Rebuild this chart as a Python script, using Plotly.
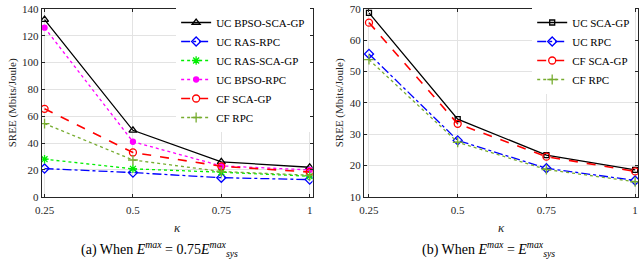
import plotly.graph_objects as go

kappa = [0.25, 0.5, 0.75, 1.0]
kappa_ticks = ["0.25", "0.5", "0.75", "1"]

# (a) E^max = 0.75 E^max_sys
a_uc_bpso_scagp = [132, 49.5, 26, 22]
a_uc_ras_rpc = [21, 18, 14.2, 12.8]
a_uc_ras_scagp = [28, 20.8, 18.3, 15.3]
a_uc_bpso_rpc = [126, 41, 23, 20]
a_cf_scagp = [65.5, 33, 22.7, 18.4]
a_cf_rpc = [54.5, 27.4, 18.8, 16]

# (b) E^max = E^max_sys
b_uc_scagp = [68.7, 34.8, 23.3, 18.6]
b_uc_rpc = [55.6, 28.0, 19.1, 15.2]
b_cf_scagp = [65.6, 33.3, 22.8, 18.1]
b_cf_rpc = [53.8, 27.4, 18.7, 14.8]

FONT = "Liberation Serif"
OLIVE = "#77ac30"

fig = go.Figure()

def add(x, y, name, color, dash, symbol, msize, xa, ya, legend, width=1.3):
    fig.add_trace(go.Scatter(
        x=x, y=y, name=name, mode="lines+markers",
        line=dict(color=color, dash=dash, width=width),
        marker=dict(symbol=symbol, size=msize, color=color,
                    line=dict(color=color, width=1.3)),
        xaxis=xa, yaxis=ya, legend=legend))

add(kappa, a_uc_bpso_scagp, "UC BPSO-SCA-GP", "#000000", "solid", "triangle-up-open", 7, "x", "y", "legend")
add(kappa, a_uc_ras_rpc, "UC RAS-RPC", "#0000ff", "dashdot", "diamond-open", 7, "x", "y", "legend")
add(kappa, a_uc_ras_scagp, "UC RAS-SCA-GP", "#00ee00", "dot", "asterisk-open", 7, "x", "y", "legend")
add(kappa, a_uc_bpso_rpc, "UC BPSO-RPC", "#ff00ff", "dot", "circle", 5, "x", "y", "legend")
add(kappa, a_cf_scagp, "CF SCA-GP", "#ff0000", "dash", "circle-open", 7, "x", "y", "legend", 1.6)
add(kappa, a_cf_rpc, "CF RPC", OLIVE, "dot", "cross-thin-open", 7, "x", "y", "legend")

add(kappa, b_uc_scagp, "UC SCA-GP", "#000000", "solid", "square-open", 5, "x2", "y2", "legend2")
add(kappa, b_uc_rpc, "UC RPC", "#0000ff", "dashdot", "diamond-open", 7, "x2", "y2", "legend2")
add(kappa, b_cf_scagp, "CF SCA-GP", "#ff0000", "dash", "circle-open", 7, "x2", "y2", "legend2", 1.6)
add(kappa, b_cf_rpc, "CF RPC", OLIVE, "dot", "cross-thin-open", 7, "x2", "y2", "legend2")

axis_common = dict(
    showgrid=True, gridcolor="#e3e3e3", gridwidth=1,
    showline=True, linecolor="#262626", linewidth=1, mirror="ticks",
    ticks="inside", ticklen=3, tickcolor="#262626",
    tickfont=dict(family=FONT, size=11, color="#262626"),
    zeroline=False, ticklabeloverflow="allow",
)

ydom = [0.2308, 0.9885]
xtitle = dict(text="<i>κ</i>", font=dict(family=FONT, size=13), standoff=7)
ytitle = dict(text="SREE (Mbits/Joule)", font=dict(family=FONT, size=11), standoff=3)

fig.update_layout(
    width=640, height=260,
    margin=dict(l=0, r=0, t=0, b=0),
    paper_bgcolor="white", plot_bgcolor="white",
    font=dict(family=FONT, color="#262626"),
    xaxis=dict(domain=[0.0547, 0.4828], range=[0.2417, 1.0083],
               tickvals=kappa, ticktext=kappa_ticks, anchor="y",
               ticklabelstandoff=3, title=xtitle, **axis_common),
    yaxis=dict(domain=ydom, range=[0, 140], dtick=20, anchor="x",
               title=ytitle, **axis_common),
    xaxis2=dict(domain=[0.564, 0.997], range=[0.236, 1.0084],
                tickvals=kappa, ticktext=kappa_ticks, anchor="y2",
                ticklabelstandoff=3, title=xtitle, **axis_common),
    yaxis2=dict(domain=ydom, range=[10, 70], dtick=10, anchor="x2",
                title=ytitle, **axis_common),
    legend=dict(x=171 / 640, y=0.992, xanchor="left", yanchor="top",
                bgcolor="white", borderwidth=0, itemwidth=30,
                font=dict(family=FONT, size=11, color="#000000"),
                tracegroupgap=0),
    legend2=dict(x=531 / 640, y=0.992, xanchor="left", yanchor="top",
                 bgcolor="white", borderwidth=0, itemwidth=30,
                 font=dict(family=FONT, size=11, color="#000000"),
                 tracegroupgap=0),
    showlegend=True,
)

cap_font = dict(family=FONT, size=14, color="#000000")
fig.add_annotation(
    text="(a) When <i>E</i><sup><i>max</i></sup> = 0.75<i>E</i><sup><i>max</i></sup><sub><i>sys</i></sub>",
    xref="paper", yref="paper", x=154 / 640, y=0, yshift=-7,
    xanchor="center", yanchor="bottom", showarrow=False, font=cap_font)
fig.add_annotation(
    text="(b) When <i>E</i><sup><i>max</i></sup> = <i>E</i><sup><i>max</i></sup><sub><i>sys</i></sub>",
    xref="paper", yref="paper", x=487 / 640, y=0, yshift=-7,
    xanchor="center", yanchor="bottom", showarrow=False, font=cap_font)

fig.write_html("out.html", config={"displayModeBar": False},
               post_script="document.body.style.margin='0px';document.body.style.overflow='hidden';")
